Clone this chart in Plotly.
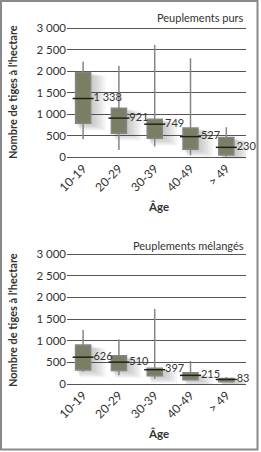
import plotly.graph_objects as go

categories = ["10-19", "20-29", "30-39", "40-49", "> 49"]

# Peuplements purs
pur_low = [420, 170, 250, 50, 15]
pur_q1 = [790, 560, 440, 185, 55]
pur_med = [1365, 910, 770, 480, 232]
pur_q3 = [1970, 1140, 885, 680, 460]
pur_high = [2225, 2125, 2610, 2300, 700]
pur_labels = ["1 338", "921", "749", "527", "230"]

# Peuplements mélangés
mel_low = [285, 200, 120, 80, 40]
mel_q1 = [325, 310, 190, 100, 55]
mel_med = [620, 505, 330, 200, 105]
mel_q3 = [900, 650, 365, 260, 125]
mel_high = [1250, 1030, 1730, 530, 160]
mel_labels = ["626", "510", "397", "215", "83"]

yticks = [0, 500, 1000, 1500, 2000, 2500, 3000]
yticktext = ["0", "500", "1 000", "1 500", "2 000", "2 500", "3 000"]

W, H = 261, 452
ML, MR, MT, MB = 67, 15, 24, 62
PW, PH = W - ML - MR, H - MT - MB

def ydom(py_top, py_bot):
    return [1 - (py_bot - MT) / PH, 1 - (py_top - MT) / PH]

def xp(px):
    return (px - ML) / PW

def yp(py):
    return 1 - (py - MT) / PH

FONT = "Lato"
TXT = "#333333"
BOX = "#7a7f63"
WHISK = "#858585"
GRID = "#555555"

fig = go.Figure()
xs = list(range(len(categories)))
panels = [
    (pur_low, pur_q1, pur_med, pur_q3, pur_high, pur_labels, "x", "y"),
    (mel_low, mel_q1, mel_med, mel_q3, mel_high, mel_labels, "x2", "y2"),
]
for low, q1, med, q3, high, labs, xa, ya in panels:
    # soft drop shadow (decorative)
    for k in range(6, 0, -1):
        sx = [x + 0.045 * k for x in xs]
        sb = [q - 28 * k for q in q1]
        st = [q - 14 * k for q in q3]
        fig.add_trace(go.Box(
            x=sx, q1=sb, median=sb, q3=st, lowerfence=sb, upperfence=st,
            width=0.42 + 0.05 * k, fillcolor="rgba(70,70,70,0.055)",
            line=dict(width=0, color="rgba(0,0,0,0)"),
            xaxis=xa, yaxis=ya, showlegend=False, hoverinfo="skip", boxpoints=False,
        ))
    fig.add_trace(go.Box(
        x=xs, q1=q1, median=med, q3=q3, lowerfence=low, upperfence=high,
        width=0.42, whiskerwidth=0, fillcolor=BOX, line=dict(color=WHISK, width=1.5),
        xaxis=xa, yaxis=ya, showlegend=False, boxpoints=False,
    ))
    fig.add_trace(go.Scatter(
        x=xs, y=med, mode="markers+text", text=labs, textposition="middle right",
        textfont=dict(family=FONT, size=11, color=TXT), cliponaxis=False,
        marker=dict(symbol="line-ew", size=15, line=dict(width=1.5, color="#1e2015")),
        xaxis=xa, yaxis=ya, showlegend=False,
    ))

axis_x = dict(range=[-0.45, 4.55], tickvals=xs, ticktext=categories, tickangle=-45,
              showgrid=False, zeroline=False, showline=False, ticks="",
              tickfont=dict(family=FONT, size=12, color=TXT), domain=[0, 1])
axis_y = dict(range=[-25, 3025], tickvals=yticks, ticktext=yticktext, showgrid=True,
              gridcolor=GRID, gridwidth=1.4, zeroline=False, showline=False, ticks="",
              tickfont=dict(family=FONT, size=11.5, color=TXT))

fig.update_layout(
    width=W, height=H, margin=dict(l=ML, r=MR, t=MT, b=MB),
    paper_bgcolor="white", plot_bgcolor="white",
    xaxis=dict(axis_x, anchor="y"),
    xaxis2=dict(axis_x, anchor="y2"),
    yaxis=dict(axis_y, domain=ydom(27, 158.4), anchor="x"),
    yaxis2=dict(axis_y, domain=ydom(253, 385.1), anchor="x2"),
    font=dict(family=FONT, color=TXT),
)

ann = []
for ttl, py in [("Peuplements purs", 18), ("Peuplements mélangés", 245)]:
    ann.append(dict(text=ttl, x=xp(246), y=yp(py), xref="paper", yref="paper",
                    xanchor="right", yanchor="middle", showarrow=False,
                    font=dict(family=FONT, size=11, color=TXT)))
for py in [206, 434]:
    ann.append(dict(text="<b>Âge</b>", x=xp(158), y=yp(py), xref="paper", yref="paper",
                    xanchor="center", yanchor="middle", showarrow=False,
                    font=dict(family=FONT, size=11.5, color=TXT)))
for py in [92, 320]:
    ann.append(dict(text="<b>Nombre de tiges à l'hectare</b>", x=xp(12), y=yp(py), xref="paper", yref="paper",
                    xanchor="center", yanchor="middle", showarrow=False, textangle=-90,
                    font=dict(family=FONT, size=11, color=TXT)))
fig.update_layout(annotations=ann)

fig.add_shape(type="rect", xref="paper", yref="paper",
              x0=xp(1), x1=xp(257.5), y0=yp(449.5), y1=yp(1),
              line=dict(color="#8a8a8a", width=2), fillcolor="rgba(0,0,0,0)", layer="above")

fig.write_html("out.html")
